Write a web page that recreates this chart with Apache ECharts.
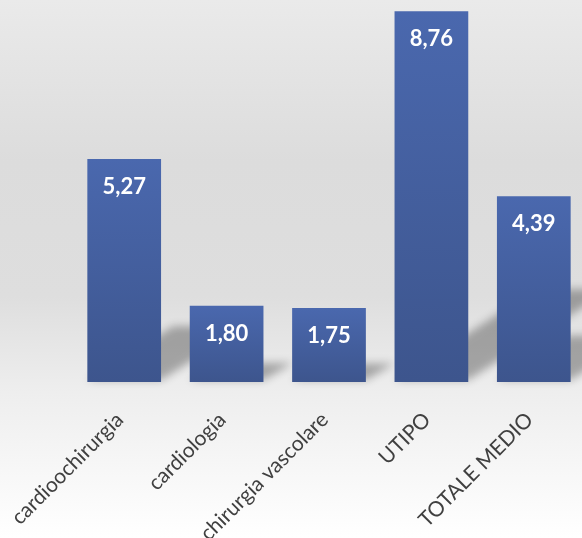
<!DOCTYPE html>
<html>
<head>
<meta charset="utf-8">
<style>
  html, body { margin: 0; padding: 0; }
  #chart { width: 582px; height: 538px; }
</style>
<script src="https://cdn.jsdelivr.net/npm/echarts@6/dist/echarts.min.js"></script>
</head>
<body>
<div id="chart"></div>
<script>
// Reparti e valori medi
const categories = ['cardioochirurgia', 'cardiologia', 'chirurgia vascolare', 'UTIPO', 'TOTALE MEDIO'];
const values = [5.27, 1.80, 1.75, 8.76, 4.39];

const chart = echarts.init(document.getElementById('chart'), null, { renderer: 'canvas' });

// Perspective "floor" shadow behind each bar: a sheared, shortened copy of the bar,
// blurred by drawing it off-canvas and letting only its canvas shadow land in place.
const OFF = 3000;
function renderShadow(params, api) {
  const idx = api.value(0);
  const v = api.value(1);
  const base = api.coord([idx, 0]);
  const top = api.coord([idx, v]);
  const w = api.size([1, 0])[0] * 0.72;
  const h = base[1] - top[1];
  const H = h * 0.25;
  const d = H / 0.65;
  const x0 = base[0] - w / 2;
  const x1 = base[0] + w / 2;
  const y = base[1];
  return {
    type: 'polygon',
    shape: {
      points: [
        [x0 - OFF, y - 2],
        [x1 - OFF, y - 2],
        [x1 + d - OFF, y - H],
        [x0 + d - OFF, y - H]
      ]
    },
    style: {
      fill: '#000',
      shadowBlur: 9,
      shadowOffsetX: OFF,
      shadowColor: 'rgba(0,0,0,0.3)'
    },
    z2: 0
  };
}

const option = {
  animation: false,
  backgroundColor: {
    type: 'linear', x: 0, y: 0, x2: 0, y2: 1,
    colorStops: [
      { offset: 0, color: '#eaeaea' },
      { offset: 0.3, color: '#dcdcdc' },
      { offset: 0.55, color: '#dedede' },
      { offset: 0.73, color: '#eeeeee' },
      { offset: 1, color: '#ffffff' }
    ]
  },
  grid: {
    left: 73, right: -3, top: 1, bottom: 156,
    containLabel: false,
    outerBoundsMode: 'none'
  },
  xAxis: {
    type: 'category',
    data: categories,
    axisLine: { show: false },
    axisTick: { show: false },
    axisLabel: {
      rotate: 45,
      margin: 30,
      padding: [0, 6, 0, 0],
      interval: 0,
      color: '#404040',
      fontFamily: 'Lato',
      fontSize: 21
    }
  },
  yAxis: {
    type: 'value',
    min: 0,
    max: 9,
    show: false,
    splitLine: { show: false }
  },
  series: [
    {
      type: 'custom',
      renderItem: renderShadow,
      data: values.map((v, i) => [i, v]),
      encode: { x: 0, y: 1 },
      clip: false,
      silent: true,
      z: 1
    },
    {
      type: 'bar',
      data: values,
      barWidth: '72%',
      z: 2,
      itemStyle: {
        color: {
          type: 'linear', x: 0, y: 0, x2: 0, y2: 1,
          colorStops: [
            { offset: 0, color: '#4a68ae' },
            { offset: 1, color: '#3d558d' }
          ]
        }
      },
      label: {
        show: true,
        position: 'insideTop',
        distance: 17,
        color: '#ffffff',
        fontFamily: 'Lato',
        fontWeight: 'bold',
        fontSize: 22,
        formatter: p => p.value.toFixed(2).replace('.', ',')
      }
    }
  ]
};

chart.setOption(option);
</script>
</body>
</html>
